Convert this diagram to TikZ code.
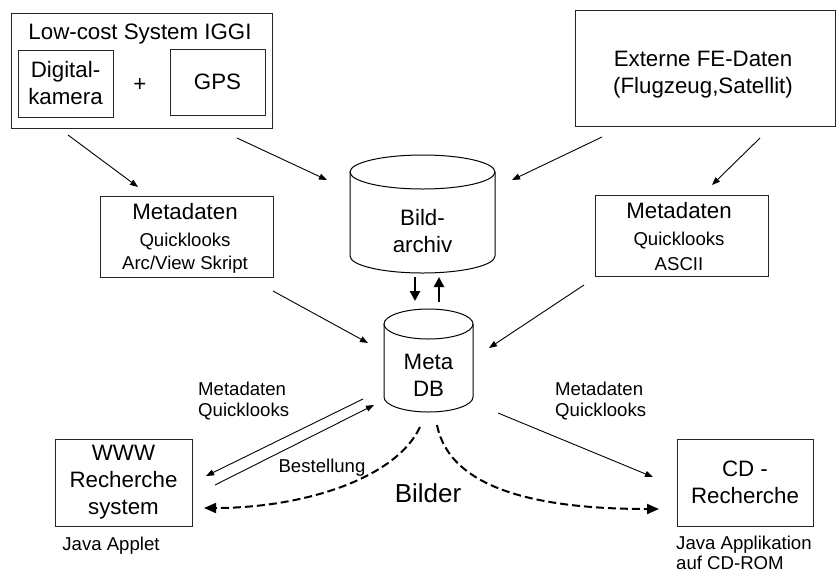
\documentclass[tikz,border=0pt]{standalone}
\usepackage{fontspec}
\setmainfont{Liberation Sans}
\usetikzlibrary{arrows.meta}

\newcommand{\bigtxt}{\fontsize{22.3}{27}\selectfont}
\newcommand{\smtxt}{\fontsize{18.6}{20.5}\selectfont}
\newcommand{\notetxt}{\fontsize{18.6}{19.5}\selectfont}
\newcommand{\hugetxt}{\fontsize{26}{30}\selectfont}

\tikzset{
  box/.style={draw=black!85, line width=1pt, inner sep=0pt},
  txt/.style={inner sep=0pt, align=center, font=\bigtxt},
  lbl/.style={inner sep=0pt, align=left, font=\smtxt},
  arr/.style={line width=0.9pt, -{Triangle[length=8pt,width=6pt]}},
  thickarr/.style={line width=2.6pt, -{Triangle[length=10pt,width=10pt]}},
  dasharr/.style={line width=2pt, dash pattern=on 8pt off 4pt,
    -{Triangle[length=12pt,width=10pt]}},
  cyl/.style={line width=1pt}
}

\begin{document}
\begin{tikzpicture}[x=1pt, y=-1pt]
\useasboundingbox (0,0) rectangle (837,574);

% --- Low-cost system with camera and GPS
\node[box, minimum width=261pt, minimum height=115pt] (low) at (141.5,70.5) {};
\node[txt] (lowtitle) at (140,34) {Low-cost System IGGI};
\node[box, minimum width=95pt, minimum height=67pt, txt] (cam) at (65.5,83.5) {Digital-\\kamera};
\node[txt] (plus) at (140,85) {+};
\node[box, minimum width=95pt, minimum height=66pt, txt] (gps) at (217.5,82) {GPS};

% --- external data
\node[box, minimum width=260pt, minimum height=116pt] (ext) at (705,68) {};
\node[txt] (exttxt) at (703,75) {Externe FE-Daten\\(Flugzeug,Satellit)};

% --- metadata boxes
\node[box, minimum width=173pt, minimum height=81pt] (mdl) at (186.5,236.5) {};
\node[txt] (mdl1) at (185,212) {Metadaten};
\node[lbl] (mdl2) at (185,242) {Quicklooks};
\node[lbl] (mdl3) at (185,265) {Arc/View Skript};

\node[box, minimum width=173pt, minimum height=81pt] (mdr) at (681.5,235.5) {};
\node[txt] (mdr1) at (679,211) {Metadaten};
\node[lbl] (mdr2) at (679,241) {Quicklooks};
\node[lbl] (mdr3) at (679,264) {ASCII};

% --- image archive cylinder
\draw[cyl] (422.5,172) ellipse [x radius=72.5pt, y radius=17pt];
\draw[cyl] (350,172) -- (350,256)
  arc[start angle=180, end angle=360, x radius=72.5pt, y radius=17pt] -- (495,172);
\node[txt] (bild) at (422.5,231) {Bild-\\archiv};

% --- meta database cylinder
\draw[cyl] (428.5,324) ellipse [x radius=44.5pt, y radius=15pt];
\draw[cyl] (384,324) -- (384,397)
  arc[start angle=180, end angle=360, x radius=44.5pt, y radius=15pt] -- (473,324);
\node[txt] (meta) at (428.5,375) {Meta\\DB};

% --- client systems
\node[box, minimum width=137pt, minimum height=87pt, txt] (www) at (123.5,482.5) {WWW\\Recherche\\system};
\node[lbl] (wwwnote) at (111,546) {Java Applet};
\node[box, minimum width=136pt, minimum height=87pt, txt] (cd) at (745,482.5) {CD -\\Recherche};
\node[lbl, font=\notetxt, anchor=west] (cdnote) at (676,553) {Java Applikation\\auf CD-ROM};

% --- connector end points
\coordinate (a1s) at (68,135);  \coordinate (a1e) at (138,187);
\coordinate (a2s) at (237,138); \coordinate (a2e) at (327,180);
\coordinate (a3s) at (602,137); \coordinate (a3e) at (512,180);
\coordinate (a4s) at (760,138); \coordinate (a4e) at (712,185);
\coordinate (a5s) at (273,291); \coordinate (a5e) at (368,343);
\coordinate (a6s) at (584,285); \coordinate (a6e) at (489,348);
\coordinate (b1s) at (415,277); \coordinate (b1e) at (415,301);
\coordinate (b2s) at (439,302); \coordinate (b2e) at (439,277);
\coordinate (c1s) at (363,399); \coordinate (c1e) at (206,476);
\coordinate (c2s) at (215,485); \coordinate (c2e) at (374,405);
\coordinate (c3s) at (498,413); \coordinate (c3e) at (653,477);
\coordinate (d1s) at (420,427); \coordinate (d1e) at (204,508);
\coordinate (d2s) at (437,425); \coordinate (d2e) at (659,509);

% --- data flow arrows
\draw[arr] (a1s) -- (a1e);
\draw[arr] (a2s) -- (a2e);
\draw[arr] (a3s) -- (a3e);
\draw[arr] (a4s) -- (a4e);
\draw[arr] (a5s) -- (a5e);
\draw[arr] (a6s) -- (a6e);
\draw[thickarr] (b1s) -- (b1e);
\draw[thickarr] (b2s) -- (b2e);
\draw[arr] (c1s) -- (c1e);
\draw[arr] (c2s) -- (c2e);
\draw[arr] (c3s) -- (c3e);
\draw[dasharr] (d1s) .. controls (395,480) and (300,508) .. (d1e);
\draw[dasharr] (d2s) .. controls (450,490) and (540,509) .. (d2e);

% --- arrow labels
\node[lbl, anchor=west] (ml) at (198,401) {Metadaten\\Quicklooks};
\node[lbl] (best) at (322,468) {Bestellung};
\node[lbl, anchor=west] (mr) at (555,401) {Metadaten\\Quicklooks};
\node[inner sep=0pt, font=\hugetxt] (bilder) at (428,493) {Bilder};
\end{tikzpicture}
\end{document}
